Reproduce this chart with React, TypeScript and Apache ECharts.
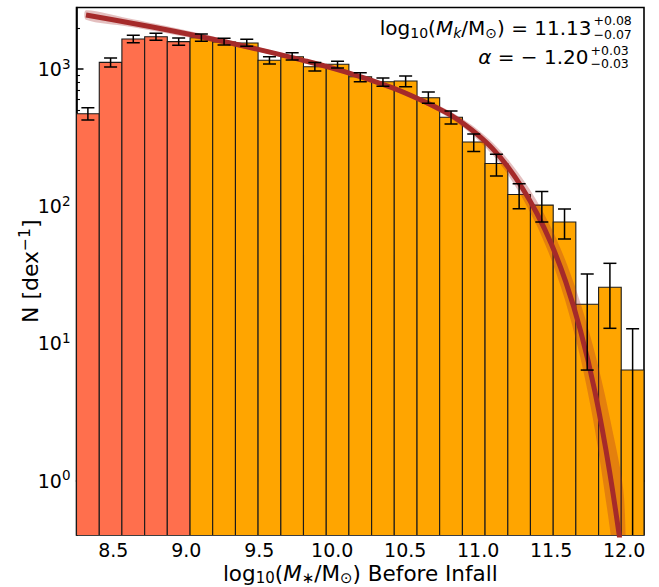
import React, { useEffect, useRef } from 'react';
import * as echarts from 'echarts';

// ---------- data ----------
const binEdges = [8.248, 8.404, 8.559, 8.715, 8.870, 9.026, 9.181, 9.337, 9.492, 9.648, 9.803, 9.959, 10.114, 10.270, 10.425, 10.581, 10.736, 10.892, 11.047, 11.203, 11.358, 11.514, 11.669, 11.825, 11.980, 12.136];
const binValues = [473, 1120, 1657, 1722, 1585, 1693, 1575, 1549, 1159, 1231, 1040, 1084, 880, 809, 818, 619, 446, 294, 205, 122, 102, 76.9, 19.3, 25.7, 6.41];
const errHigh = [523, 1205, 1763, 1823, 1686, 1803, 1676, 1648, 1231, 1318, 1115, 1140, 942, 861, 891, 681, 495, 337, 240, 146, 128, 95.5, 32.1, 38.4, 12.8];
const errLow = [426, 1036, 1556, 1622, 1490, 1595, 1499, 1466, 1089, 1165, 970, 1018, 809, 750, 744, 563, 398, 251, 166, 96, 76.9, 57.8, 6.4, 12.9, 0];
const RED_BINS = 5; // first bins drawn in red

const fitX = [8.313, 8.6, 8.9, 9.2, 9.5, 9.8, 10.1, 10.4, 10.6, 10.8, 10.9, 11.0, 11.1, 11.2, 11.3, 11.4, 11.5, 11.6, 11.7, 11.8, 11.9, 12.0];
const fitN = [2477, 2188, 1905, 1637, 1387, 1159, 948, 740, 601, 470, 400, 330, 262, 196, 137, 89.7, 53.5, 28.1, 12.5, 4.45, 1.17, 0.223];
const fitBandDex = [0.035, 0.03, 0.025, 0.02, 0.015, 0.015, 0.015, 0.015, 0.018, 0.025, 0.03, 0.037, 0.045, 0.055, 0.07, 0.09, 0.115, 0.15, 0.2, 0.28, 0.4, 0.52];

const xTicks = [8.5, 9.0, 9.5, 10.0, 10.5, 11.0, 11.5, 12.0];
const yDecades = [0, 1, 2, 3];

// ---------- styling ----------
const FONT = 'DejaVu Sans';
const RED = '#FF6F4D';
const ORANGE = '#FFA500';
const BROWN = '#A52A2A';
const X_MIN = 8.248, X_MAX = 12.136;
const LOG_MIN = -0.396, LOG_MAX = 3.449;

const lg = (v: number) => (v > 0 ? Math.log10(v) : LOG_MIN - 2);

const minorTicks: number[] = [];
for (let e = -1; e <= 3; e++) {
  for (let k = 2; k <= 9; k++) {
    const v = Math.log10(k) + e;
    if (v > LOG_MIN && v < LOG_MAX) minorTicks.push(v);
  }
}

const txt = (x: number, y: number, text: string, size: number, align: string, rich?: any) => ({
  type: 'text', x, y, z: 10,
  style: {
    text, fontSize: size, fontFamily: FONT, fill: '#000',
    align, verticalAlign: 'middle', textAlign: align, textVerticalAlign: 'middle',
    rich,
  },
});

export default function App() {
  const ref = useRef<HTMLDivElement>(null);
  useEffect(() => {
    if (!ref.current) return;
    const chart = echarts.init(ref.current, null, { renderer: 'svg' });

    const barData = binValues.map((v, i) => [binEdges[i], binEdges[i + 1], lg(v), i < RED_BINS ? 0 : 1]);
    const errData = binValues.map((v, i) => [(binEdges[i] + binEdges[i + 1]) / 2, lg(errLow[i]), lg(errHigh[i]), errLow[i] > 0 ? 1 : 0]);
    const fitData = fitX.map((x, i) => [x, lg(fitN[i])]);

    const tickSup = { fontSize: 13.5, fontFamily: FONT, color: '#000', padding: [0, 0, 11, 0] };
    const nameSup = { fontSize: 15.5, fontFamily: FONT, color: '#000', padding: [0, 0, 12, 0] };
    const nameSub = { fontSize: 15, fontFamily: FONT, color: '#000', padding: [9, 0, 0, 0] };

    const annSub = { fontSize: 14, fontFamily: FONT, fill: '#000', padding: [10, 0, 0, 0] };
    const annSubIt = { fontSize: 14, fontFamily: FONT, fontStyle: 'italic', fill: '#000', padding: [10, 0, 0, 0] };
    const annIt = { fontSize: 20, fontFamily: FONT, fontStyle: 'italic', fill: '#000' };

    const option: any = {
      animation: false,
      grid: {
        left: 76.5, right: 15, top: 7.5, bottom: 52, show: true, borderColor: '#000', borderWidth: 1.6,
        backgroundColor: 'transparent', containLabel: false, outerBoundsMode: 'none',
      },
      xAxis: {
        type: 'value', min: X_MIN, max: X_MAX,
        axisLine: { show: true, lineStyle: { color: '#000', width: 1.6 } },
        axisTick: { show: true, inside: true, length: 7, lineStyle: { color: '#000', width: 1.5 }, customValues: xTicks },
        axisLabel: { show: true, customValues: xTicks, fontSize: 19, fontFamily: FONT, color: '#000', margin: 5, formatter: (v: number) => v.toFixed(1) },
        splitLine: { show: false },
        name: 'log{s|10}({i|M}{s|∗}/M{s|⊙}) Before Infall',
        nameLocation: 'middle', nameGap: 26, nameMoveOverlap: false,
        nameTextStyle: { fontSize: 21.5, fontFamily: FONT, color: '#000', rich: { s: nameSub, i: { fontSize: 21.5, fontFamily: FONT, fontStyle: 'italic', color: '#000' } } },
      },
      yAxis: [
        {
          type: 'value', min: LOG_MIN, max: LOG_MAX,
          axisLine: { show: true, lineStyle: { color: '#000', width: 1.6 } },
          axisTick: { show: true, inside: true, length: 7, lineStyle: { color: '#000', width: 1.5 }, customValues: yDecades },
          axisLabel: {
            show: true, customValues: yDecades, fontSize: 19, fontFamily: FONT, color: '#000', margin: 6,
            formatter: (v: number) => '10{p|' + Math.round(v) + '}',
            rich: { p: tickSup },
          },
          splitLine: { show: false },
          name: 'N [dex{p|−1}]', nameLocation: 'middle', nameRotate: 90, nameGap: 32, nameMoveOverlap: false,
          nameTextStyle: { fontSize: 22, fontFamily: FONT, color: '#000', rich: { p: nameSup } },
        },
        {
          type: 'value', min: LOG_MIN, max: LOG_MAX, position: 'left', offset: 0,
          axisLine: { show: false },
          axisTick: { show: true, inside: true, length: 3.5, lineStyle: { color: '#000', width: 1.1 }, customValues: minorTicks },
          axisLabel: { show: false },
          splitLine: { show: false },
        },
      ],
      series: [
        {
          type: 'custom', name: 'bars', clip: true, z: 1,
          encode: { x: [0, 1], y: 2 },
          data: barData,
          renderItem: (params: any, api: any) => {
            const p0 = api.coord([api.value(0), api.value(2)]);
            const p1 = api.coord([api.value(1), LOG_MIN]);
            return {
              type: 'rect',
              shape: { x: p0[0], y: p0[1], width: p1[0] - p0[0], height: p1[1] - p0[1] + 2 },
              style: { fill: api.value(3) === 0 ? RED : ORANGE, stroke: '#1a1a1a', lineWidth: 1.1 },
            };
          },
        },
        {
          type: 'custom', name: 'band', clip: true, z: 2,
          data: fitData,
          encode: { x: 0, y: 1 },
          renderItem: (params: any, api: any) => {
            if (params.dataIndex !== 0) return null;
            const up = fitX.map((x, i) => api.coord([x, lg(fitN[i]) + fitBandDex[i]]));
            const lo = fitX.map((x, i) => api.coord([x, lg(fitN[i]) - fitBandDex[i]])).reverse();
            return { type: 'polygon', shape: { points: up.concat(lo), smooth: 0.3 }, style: { fill: BROWN, opacity: 0.3 } };
          },
        },
        {
          type: 'line', name: 'fit', data: fitData, showSymbol: false, symbol: 'none', smooth: 0.35, clip: true, z: 3,
          lineStyle: { color: BROWN, width: 5 },
        },
        {
          type: 'custom', name: 'errors', clip: true, z: 4,
          data: errData,
          encode: { x: 0, y: [1, 2] },
          renderItem: (params: any, api: any) => {
            const x = api.value(0);
            const pl = api.coord([x, api.value(1)]);
            const ph = api.coord([x, api.value(2)]);
            const hw = 6.5;
            const children: any[] = [
              { type: 'line', shape: { x1: ph[0], y1: ph[1], x2: pl[0], y2: pl[1] }, style: { stroke: '#000', lineWidth: 1.5 } },
              { type: 'line', shape: { x1: ph[0] - hw, y1: ph[1], x2: ph[0] + hw, y2: ph[1] }, style: { stroke: '#000', lineWidth: 1.5 } },
            ];
            if (api.value(3) === 1) {
              children.push({ type: 'line', shape: { x1: pl[0] - hw, y1: pl[1], x2: pl[0] + hw, y2: pl[1] }, style: { stroke: '#000', lineWidth: 1.5 } });
            }
            return { type: 'group', children };
          },
        },
      ],
      graphic: [
        txt(591.5, 28, 'log{s|10}({i|M}{k|k}/M{s|⊙}) = 11.13', 20, 'right', { s: annSub, k: annSubIt, i: annIt }),
        txt(593.5, 20.5, '+0.08', 12.5, 'left'),
        txt(593.5, 34, '−0.07', 12.5, 'left'),
        txt(588.5, 57, '{i|α} = − 1.20', 20, 'right', { i: annIt }),
        txt(590.5, 50, '+0.03', 12.5, 'left'),
        txt(590.5, 63.5, '−0.03', 12.5, 'left'),
      ],
    };
    chart.setOption(option);
    return () => chart.dispose();
  }, []);
  return <div ref={ref} style={{ position: 'absolute', left: 0, top: 0, width: 659, height: 587 }} />;
}
